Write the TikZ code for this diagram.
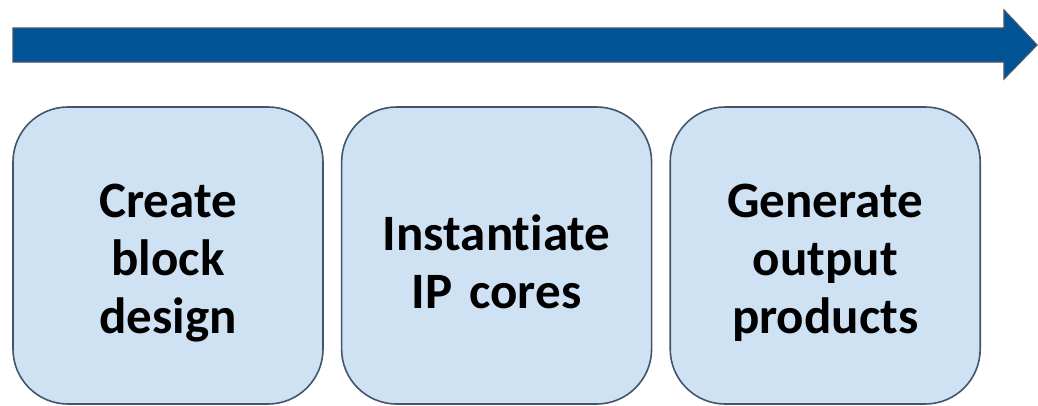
\documentclass[tikz,border=0pt]{standalone}
\usepackage{fontspec}
\setmainfont{Carlito}[Ligatures=NoCommon, WordSpace=0.8]
\usetikzlibrary{positioning}

\definecolor{flowblue}{RGB}{0,84,150}
\definecolor{edgegray}{RGB}{68,84,106}
\definecolor{stepfill}{RGB}{207,226,243}

\begin{document}
\begin{tikzpicture}[
    x=1pt, y=1pt,
    node distance=17pt,
    stepbox/.style={rectangle, draw=edgegray, line width=1.6pt, fill=stepfill, rounded corners=55pt,
        minimum width=310pt, minimum height=297pt, text width=290pt, align=center,
        font=\fontsize{51}{58}\selectfont\bfseries,
        execute at begin node={\rule{0pt}{49pt}}},
    flowarrow/.style={draw=edgegray, line width=1.2pt, fill=flowblue}
]
\useasboundingbox (0,0) rectangle (1038,-405);

% Timeline arrow
\draw[flowarrow] (13,-28) -- (1004,-28) -- (1004,-10) -- (1037,-45)
    -- (1004,-79) -- (1004,-62) -- (13,-62) -- cycle;

% Steps
\node[stepbox] (create) at (168,-255.5) {Create\\block\\design};
\node[stepbox, right=of create] (instantiate) {Instantiate\\IP cores};
\node[stepbox, right=of instantiate] (generate) {Generate\\output\\products};

\end{tikzpicture}
\end{document}
